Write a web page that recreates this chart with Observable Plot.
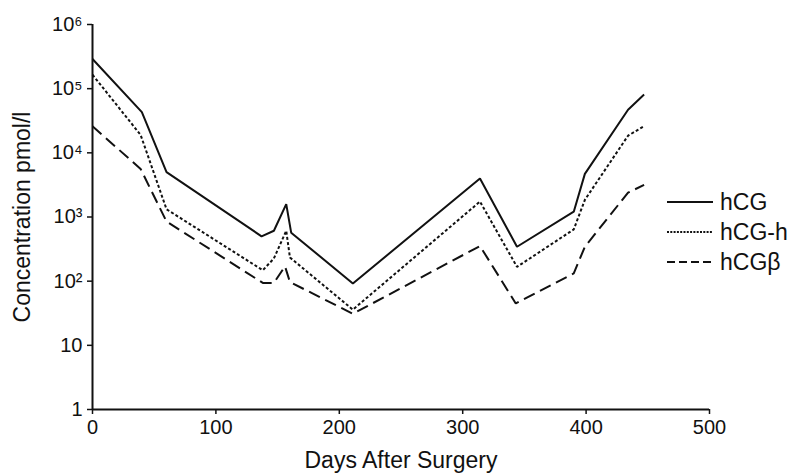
<!DOCTYPE html>
<html><head><meta charset="utf-8">
<script src="https://cdn.jsdelivr.net/npm/d3@7"></script>
<script src="https://cdn.jsdelivr.net/npm/@observablehq/plot@0.6"></script>
<style>
html,body{margin:0;padding:0;background:#fff;}
#wrap{position:relative;width:795px;height:474px;font-family:"Liberation Sans",Arial,sans-serif;}
#legend{position:absolute;left:667px;top:187px;font-size:23px;color:#111;line-height:30px;}
#legend .row{display:flex;align-items:center;height:30px;white-space:nowrap;}
#legend svg{margin-right:7px;}
</style></head><body>
<div id="wrap"><div id="legend"></div></div>
<script>
const hcgDays   = [0, 40, 60, 137, 147, 157, 161, 211, 314, 344, 390, 399, 434, 447];
const hcgValues = [290000, 43000, 5000, 500, 610, 1590, 570, 92, 3970, 344, 1210, 4700, 47000, 81000];
const hcghDays   = [0, 39, 60, 138, 147, 157, 160, 211, 314, 344, 390, 399, 434, 447];
const hcghValues = [165000, 19000, 1320, 148, 226, 610, 234, 36, 1740, 167, 640, 1850, 18500, 26000];
const hcgbDays   = [0, 39, 60, 138, 147, 156, 160, 211, 314, 343, 390, 399, 434, 447];
const hcgbValues = [26000, 5600, 850, 94, 94, 170, 97, 31, 353, 45, 132, 344, 2400, 3160];
const seriesNames = ["hCG", "hCG-h", "hCGβ"];
const dashes = [null, "3,2.2", "12,6"];
const legendDashes = [null, "2,1.3", "8,4"];
const xTicks = [0, 100, 200, 300, 400, 500];
const yTicks = [1, 10, 100, 1000, 10000, 100000, 1000000];
const yTickLabels = ["1", "10", "10²", "10³", "10⁴", "10⁵", "10⁶"];
const xTitle = "Days After Surgery";
const yTitle = "Concentration pmol/l";

const series = [
  hcgDays.map((d, i) => ({day: d, value: hcgValues[i]})),
  hcghDays.map((d, i) => ({day: d, value: hcghValues[i]})),
  hcgbDays.map((d, i) => ({day: d, value: hcgbValues[i]}))
];

const chart = Plot.plot({
  width: 795, height: 474,
  marginLeft: 92, marginRight: 86, marginTop: 24, marginBottom: 65,
  style: {fontFamily: '"Liberation Sans", Arial, sans-serif', color: "#111", background: "#fff"},
  x: {domain: [0, 500]},
  y: {type: "log", domain: [1, 1e6]},
  marks: [
    ...series.map((s, i) => Plot.line(s, {x: "day", y: "value", stroke: "#111", strokeWidth: 2, strokeDasharray: dashes[i], strokeLinejoin: "miter", strokeLinecap: "butt"})),
    Plot.ruleX([0], {stroke: "#111", strokeWidth: 2}),
    Plot.ruleY([1], {stroke: "#111", strokeWidth: 2}),
    Plot.axisX({ticks: xTicks, tickSize: 5, tickPadding: 5, fontSize: 20, label: null, strokeWidth: 1.5, tickFormat: d => String(d)}),
    Plot.axisY({ticks: yTicks, tickSize: 5, tickPadding: 5, fontSize: 20, label: null, strokeWidth: 1.5, tickFormat: d => yTickLabels[yTicks.indexOf(d)]}),
    Plot.text([xTitle], {frameAnchor: "bottom", lineAnchor: "middle", textAnchor: "middle", dy: 51, fontSize: 23, fill: "#111"}),
    Plot.text([yTitle], {frameAnchor: "left", lineAnchor: "middle", textAnchor: "middle", dx: -70, rotate: -90, fontSize: 23, fill: "#111"})
  ]
});
document.getElementById("wrap").prepend(chart);

const legend = document.getElementById("legend");
seriesNames.forEach((name, i) => {
  const row = document.createElement("div");
  row.className = "row";
  row.innerHTML = `<svg width="46" height="6"><line x1="0" x2="46" y1="3" y2="3" stroke="#111" stroke-width="2" ${legendDashes[i] ? `stroke-dasharray="${legendDashes[i]}"` : ""}/></svg><span>${name}</span>`;
  legend.appendChild(row);
});
</script>
</body></html>
